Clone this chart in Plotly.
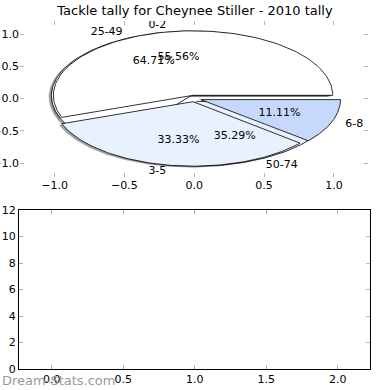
import numpy as np
import plotly.graph_objects as go

title = "Tackle tally for Cheynee Stiller - 2010 tally"
pie1_labels = ["0-2", "3-5", "6-8"]
pie1_values = [5, 3, 1]
pie2_labels = ["25-49", "50-74"]
pie2_values = [11, 6]
slice_colors = [(255, 255, 255), (233, 240, 254), (198, 217, 253)]
top_ticks = [-1.0, -0.5, 0.0, 0.5, 1.0]
bottom_xticks = [0.0, 0.5, 1.0, 1.5, 2.0]
bottom_yticks = [0, 2, 4, 6, 8, 10, 12]
watermark = "Dream-Stats.com"

EXPLODE = 0.05
SHADOW = (-0.02, -0.02)
FONT = "DejaVu Sans"


def wedges(values):
    total = float(sum(values))
    out = []
    t1 = 0.0
    for v in values:
        t2 = t1 + 360.0 * v / total
        tm = np.radians((t1 + t2) / 2)
        cx, cy = EXPLODE * np.cos(tm), EXPLODE * np.sin(tm)
        ang = np.radians(np.linspace(t1, t2, 120))
        xs = np.concatenate([[cx], cx + np.cos(ang), [cx]])
        ys = np.concatenate([[cy], cy + np.sin(ang), [cy]])
        out.append((xs, ys, cx, cy, tm, v / total * 100))
        t1 = t2
    return out


w1 = wedges(pie1_values)
w2 = wedges(pie2_values)

fig = go.Figure()

# shadows (below all wedges)
for ws in (w1, w2):
    for i, (xs, ys, cx, cy, tm, p) in enumerate(ws):
        r, g, b = slice_colors[i]
        fig.add_trace(go.Scatter(
            x=xs + SHADOW[0], y=ys + SHADOW[1], mode="lines", fill="toself",
            fillcolor=f"rgba({int(r*0.3)},{int(g*0.3)},{int(b*0.3)},0.5)",
            line=dict(width=0), hoverinfo="skip", showlegend=False,
            xaxis="x", yaxis="y"))

# wedges: second pie underneath, first pie on top
for ws in (w2, w1):
    for i, (xs, ys, cx, cy, tm, p) in enumerate(ws):
        r, g, b = slice_colors[i]
        fig.add_trace(go.Scatter(
            x=xs, y=ys, mode="lines", fill="toself",
            fillcolor=f"rgb({r},{g},{b})",
            line=dict(color="black", width=0.8), hoverinfo="skip",
            showlegend=False, xaxis="x", yaxis="y"))

# labels and percentages
for ws, labels in ((w1, pie1_labels), (w2, pie2_labels)):
    for (xs, ys, cx, cy, tm, p), lab in zip(ws, labels):
        lx, ly = cx + 1.1 * np.cos(tm), cy + 1.1 * np.sin(tm)
        fig.add_trace(go.Scatter(
            x=[lx], y=[ly], mode="text", text=[lab],
            textposition="middle right" if lx > 0 else "middle left",
            textfont=dict(family=FONT, size=11, color="black"),
            hoverinfo="skip", showlegend=False, xaxis="x", yaxis="y"))
        px, py = cx + 0.6 * np.cos(tm), cy + 0.6 * np.sin(tm)
        fig.add_trace(go.Scatter(
            x=[px], y=[py], mode="text", text=[f"{p:.2f}%"],
            textposition="middle center",
            textfont=dict(family=FONT, size=11, color="black"),
            hoverinfo="skip", showlegend=False, xaxis="x", yaxis="y"))

# empty bottom axes
fig.add_trace(go.Scatter(x=[], y=[], xaxis="x2", yaxis="y2", showlegend=False))

tick_common = dict(ticks="inside", ticklen=4, tickwidth=1, tickcolor="#b5b5b5",
                   showgrid=False, zeroline=False,
                   tickfont=dict(family=FONT, size=11, color="black"),
                   automargin=False)

fig.update_layout(
    width=390, height=390,
    margin=dict(l=0, r=0, t=0, b=0),
    paper_bgcolor="white", plot_bgcolor="white",
    title=dict(text=title, x=0.5, xanchor="center", y=0.974, yanchor="middle",
               font=dict(family=FONT, size=13, color="black")),
    xaxis=dict(domain=[20/390, 368/390], range=[-1.2473, 1.2437],
               tickvals=top_ticks, tickformat=".1f", showline=False,
               mirror="ticks", anchor="y", **tick_common),
    yaxis=dict(domain=[1-177/390, 1-21/390], range=[-1.217, 1.2016],
               tickvals=top_ticks, tickformat=".1f", showline=False,
               mirror="ticks", anchor="x", **tick_common),
    xaxis2=dict(domain=[19/390, 370/390], range=[-0.2287, 2.226],
                tickvals=bottom_xticks, tickformat=".1f", showline=True,
                linecolor="black", linewidth=1, mirror="ticks",
                anchor="y2", **tick_common),
    yaxis2=dict(domain=[1-369/390, 1-210/390], range=[0, 12],
                tickvals=bottom_yticks, showline=True,
                linecolor="black", linewidth=1, mirror="ticks",
                anchor="x2", **tick_common),
    annotations=[dict(text=watermark, xref="paper", yref="paper",
                      x=0, y=1-380/390, xanchor="left", yanchor="middle",
                      showarrow=False,
                      font=dict(family=FONT, size=13, color="#9a9a9a"))],
)

fig.write_html("out.html",
               config={"displayModeBar": False, "staticPlot": True},
               post_script="document.body.style.margin='0';document.body.style.overflow='hidden';")
